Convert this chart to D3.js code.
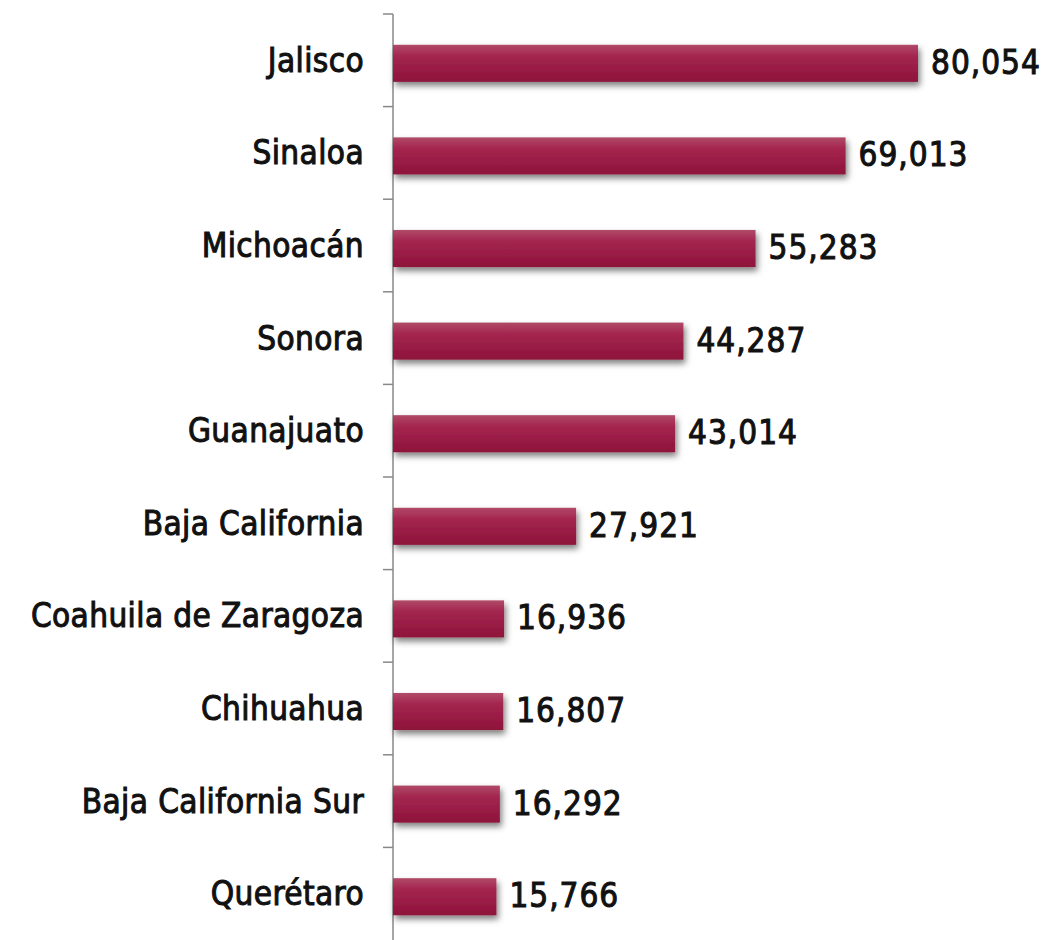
<!DOCTYPE html>
<html>
<head>
<meta charset="utf-8">
<script src="https://cdn.jsdelivr.net/npm/d3@7"></script>
<style>
  body { margin: 0; background: #fff; }
  text { font-family: "DejaVu Sans Condensed", "DejaVu Sans", sans-serif; fill: #111;
         stroke: #111; stroke-width: 1px; }
</style>
</head>
<body>
<div id="vis-holder"></div>
<script>
// Data
const states = ["Jalisco", "Sinaloa", "Michoacán", "Sonora", "Guanajuato", "Baja California",
    "Coahuila de Zaragoza", "Chihuahua", "Baja California Sur", "Querétaro"];
const values = [80054, 69013, 55283, 44287, 43014, 27921, 16936, 16807, 16292, 15766];

const width = 1061, height = 940;
const margin = { top: 14, right: 18, bottom: 0, left: 393 };

const svg = d3.select("#vis-holder")
    .append("svg")
    .attr("width", width)
    .attr("height", height);

// bar gradient + shadow
const defs = svg.append("defs");
const grad = defs.append("linearGradient")
    .attr("id", "barGrad")
    .attr("x1", 0).attr("y1", 0).attr("x2", 0).attr("y2", 1);
grad.append("stop").attr("offset", "0%").attr("stop-color", "#b04a68");
grad.append("stop").attr("offset", "30%").attr("stop-color", "#a42650");
grad.append("stop").attr("offset", "100%").attr("stop-color", "#8e123a");

const shadow = defs.append("filter")
    .attr("id", "shadow")
    .attr("x", "-5%").attr("y", "-30%").attr("width", "115%").attr("height", "180%");
shadow.append("feDropShadow")
    .attr("dx", 2).attr("dy", 4)
    .attr("stdDeviation", 3)
    .attr("flood-color", "#000")
    .attr("flood-opacity", 0.5);

const x = d3.scaleLinear()
    .domain([0, d3.max(values)])
    .range([margin.left, 918]);

const y = d3.scaleBand()
    .domain(states)
    .range([margin.top, height - margin.bottom])
    .paddingInner(0.6)
    .paddingOuter(0.3);

const yBand = d3.scaleBand()
    .domain(states)
    .range([margin.top, height - margin.bottom]);

// axis with ticks between categories
const yAxis = svg.append("g")
    .attr("transform", "translate(" + margin.left + ",0)");
yAxis.append("line")
    .attr("x1", 0).attr("x2", 0)
    .attr("y1", margin.top).attr("y2", height)
    .attr("stroke", "#888").attr("stroke-width", 1.5);
yAxis.selectAll(".tick")
    .data(states)
    .enter().append("line")
    .attr("class", "tick")
    .attr("x1", -10).attr("x2", 0)
    .attr("y1", d => yBand(d))
    .attr("y2", d => yBand(d))
    .attr("stroke", "#888").attr("stroke-width", 1.5);

// bars
svg.append("g")
    .selectAll("rect")
    .data(states)
    .enter().append("rect")
    .attr("x", x(0))
    .attr("y", d => y(d) + 3)
    .attr("width", (d, i) => x(values[i]) - x(0))
    .attr("height", y.bandwidth())
    .attr("fill", "url(#barGrad)")
    .attr("filter", "url(#shadow)");

// category labels
svg.append("g")
    .selectAll("text")
    .data(states)
    .enter().append("text")
    .attr("x", 364)
    .attr("y", d => y(d) + 3 + 27)
    .attr("text-anchor", "end")
    .attr("font-size", 33)
    .attr("letter-spacing", 0.4)
    .text(d => d);

// value labels
svg.append("g")
    .selectAll("text")
    .data(states)
    .enter().append("text")
    .attr("x", (d, i) => x(values[i]) + 13)
    .attr("y", d => y(d) + 3 + 29)
    .attr("font-size", 33)
    .attr("letter-spacing", 1)
    .text((d, i) => d3.format(",")(values[i]));
</script>
</body>
</html>
